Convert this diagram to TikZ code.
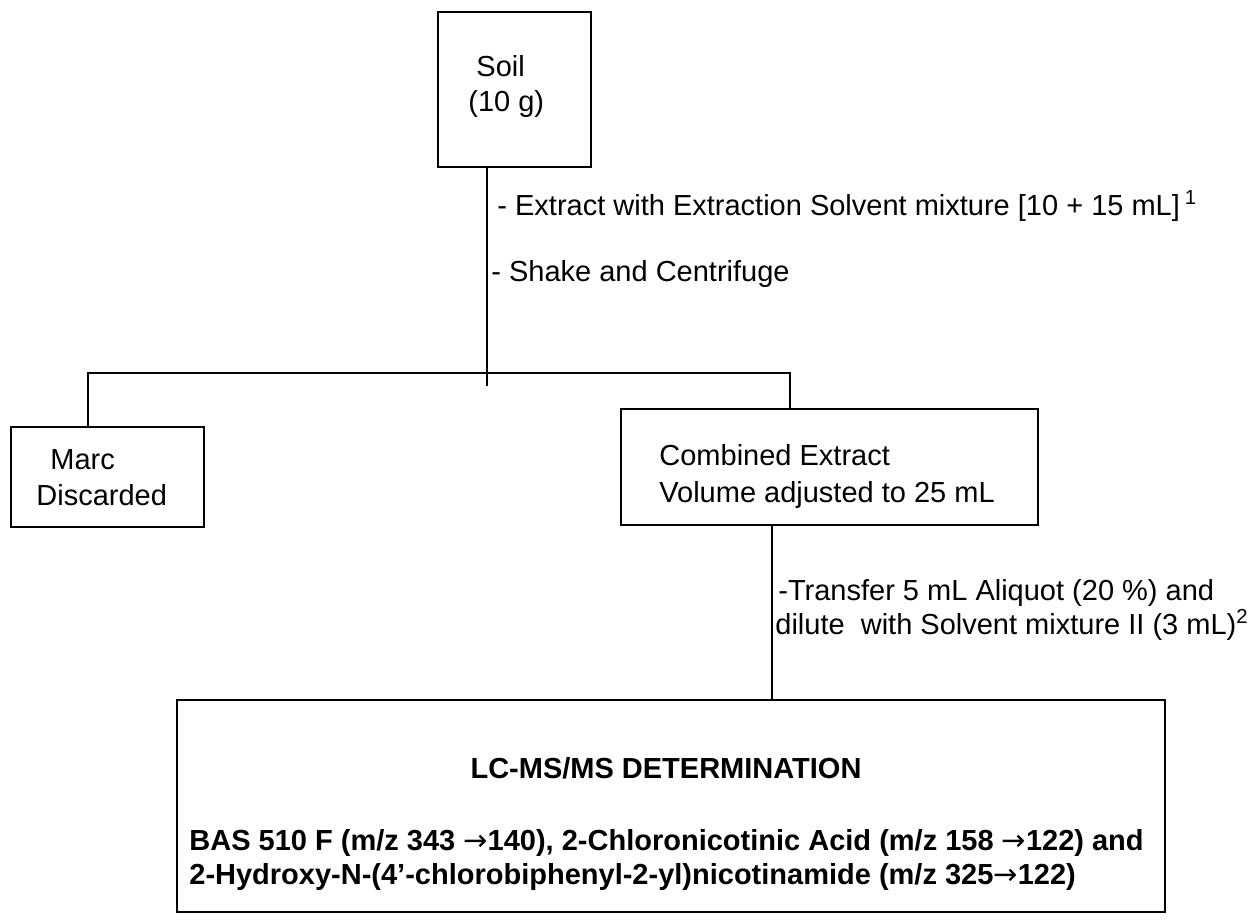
\documentclass[tikz,border=0pt]{standalone}
\usepackage{fontspec}
\setmainfont{Liberation Sans}
\newfontfamily\arrowfont{DejaVu Sans}
\newcommand{\myarrow}{{\arrowfont\mdseries →}}
\begin{document}
\begin{tikzpicture}[x=0.5pt,y=-0.5pt,
  boxsty/.style={draw,line width=1pt,inner sep=0pt,minimum width=#1},
  txt/.style={inner sep=0pt,anchor=base west,font=\fontsize{14.5pt}{17pt}\selectfont},
  btxt/.style={inner sep=0pt,font=\fontsize{14.5pt}{17pt}\selectfont\bfseries},
  conn/.style={line width=1pt}]
\useasboundingbox (0,0) rectangle (1257,920);
% boxes
\node[boxsty=76.5pt,minimum height=77.5pt] (soil) at (514.5,89.5) {};
\node[boxsty=96.5pt,minimum height=50pt] (marc) at (107.5,477) {};
\node[boxsty=208.5pt,minimum height=58pt] (comb) at (829.5,467) {};
\node[boxsty=494pt,minimum height=106pt] (res) at (671,806) {};
% texts
\node[txt] (soilA) at (476,76) {Soil};
\node[txt] (soilB) at (468,112) {(10 g)};
\node[txt] (ext) at (497,215) {- Extract with Extraction Solvent mixture [10 + 15 mL]\,\textsuperscript{1}};
\node[txt] (shk) at (491,281) {- Shake and Centrifuge};
\node[txt] (marcA) at (50,469) {Marc};
\node[txt] (marcB) at (36,505) {Discarded};
\node[txt] (combA) at (659,465) {Combined Extract};
\node[txt] (combB) at (659,502) {Volume adjusted to 25 mL};
\node[txt] (trA) at (778,600) {-Transfer 5 mL Aliquot (20 \%) and};
\node[txt] (trB) at (775,634) {dilute\ \ with Solvent mixture II (3 mL)\textsuperscript{2}};
\node[btxt,anchor=base] (title) at (666,778) {LC-MS/MS DETERMINATION};
\node[btxt,anchor=base west] (bas) at (189,850) {BAS 510 F (m/z 343 \myarrow140), 2-Chloronicotinic Acid (m/z 158 \myarrow122) and};
\node[btxt,anchor=base west] (hyd) at (189,884) {2-Hydroxy-N-(4’-chlorobiphenyl-2-yl)nicotinamide (m/z 325\myarrow122)};
% connectors
\coordinate (j) at (487,373);
\coordinate (jend) at (487,386);
\coordinate (ml) at (88,373);
\coordinate (cr) at (790,373);
\coordinate (fin) at (772,600);
\draw[conn] (soil.south -| j) -- (jend);
\draw[conn] (ml |- marc.north) -- (ml) -- (cr) -- (cr |- comb.north);
\draw[conn] (fin |- comb.south) -- (fin |- res.north);
\end{tikzpicture}
\end{document}
